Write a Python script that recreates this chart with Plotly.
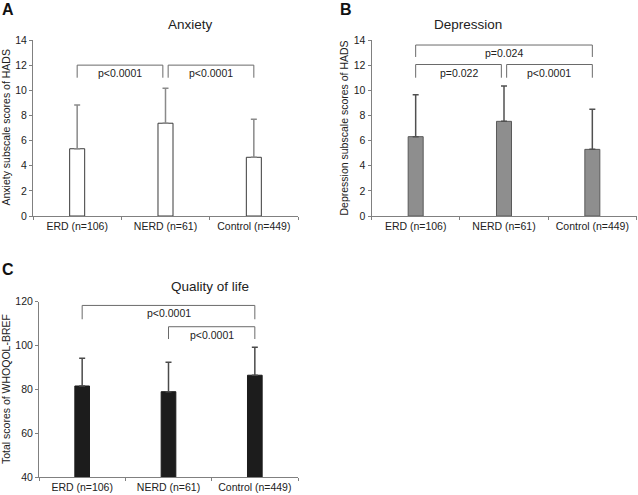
import plotly.graph_objects as go

# ---------------- data ----------------
categories = ["ERD (n=106)", "NERD (n=61)", "Control (n=449)"]

anxiety_mean = [5.35, 7.38, 4.67]
anxiety_sd = [3.48, 2.78, 3.02]

depression_mean = [6.31, 7.53, 5.30]
depression_sd = [3.34, 2.81, 3.19]

qol_mean = [81.6, 79.0, 86.5]
qol_sd = [12.6, 13.4, 12.7]

panel_titles = ["Anxiety", "Depression", "Quality of life"]
panel_letters = ["A", "B", "C"]
y_titles = ["Anxiety subscale scores of HADS",
            "Depression subscale scores of HADS",
            "Total scores of WHOQOL-BREF"]

# significance brackets: (from category index, to category index, top, leg end, label)
anxiety_brackets = [(0, 1, 12.0, 11.0, "p<0.0001"), (1, 2, 12.0, 11.0, "p<0.0001")]
depression_brackets = [(0, 2, 13.6, 12.65, "p=0.024"),
                       (0, 1, 12.05, 11.0, "p=0.022"),
                       (1, 2, 12.05, 11.0, "p<0.0001")]
qol_brackets = [(0, 2, 118.3, 112.0, "p<0.0001"), (1, 2, 108.6, 103.0, "p<0.0001")]

# ---------------- style ----------------
FONT = "Arial, 'Liberation Sans', Helvetica, sans-serif"
TXT = "#222222"
AXC = "#808080"
W, H = 638, 495

panels = [
    dict(mean=anxiety_mean, sd=anxiety_sd, brackets=anxiety_brackets,
         fill="#ffffff", line="#3a3a3a", err="#8a8a8a",
         xdom=[33, 298], ydom=[40, 216], yrange=[0, 14], dtick=2, ytitle_x=5.5),
    dict(mean=depression_mean, sd=depression_sd, brackets=depression_brackets,
         fill="#8e8e8e", line="#5a5a5a", err="#505050",
         xdom=[371.5, 636.5], ydom=[40, 216], yrange=[0, 14], dtick=2, ytitle_x=343.5),
    dict(mean=qol_mean, sd=qol_sd, brackets=qol_brackets,
         fill="#1c1c1c", line="#1c1c1c", err="#4a4a4a",
         xdom=[39, 298], ydom=[301.7, 477.3], yrange=[40, 120], dtick=20, ytitle_x=5.5),
]

fig = go.Figure()
shapes = []
annotations = []

for i, p in enumerate(panels):
    n = "" if i == 0 else str(i + 1)
    xa, ya = "x" + n, "y" + n
    fig.add_trace(go.Bar(
        x=categories, y=p["mean"], xaxis=xa, yaxis=ya, width=0.17,
        marker=dict(color=p["fill"], line=dict(color=p["line"], width=1)),
        error_y=dict(type="data", array=p["sd"], arrayminus=[0] * len(p["sd"]),
                     symmetric=False, color=p["err"], thickness=1.5, width=3),
        showlegend=False, hoverinfo="skip",
    ))
    xd = [p["xdom"][0] / W, p["xdom"][1] / W]
    yd = [1 - p["ydom"][1] / H, 1 - p["ydom"][0] / H]
    axis_common = dict(showline=True, linecolor=AXC, linewidth=1, ticks="outside",
                       tickcolor=AXC, ticklen=3, showgrid=False, zeroline=False,
                       automargin=False,
                       tickfont=dict(family=FONT, size=10.5, color=TXT))
    fig.layout["xaxis" + n] = dict(axis_common, domain=xd, anchor=ya, range=[-0.5, 2.5],
                                   type="category", tickson="boundaries", fixedrange=True)
    fig.layout["yaxis" + n] = dict(axis_common, domain=yd, anchor=xa, range=p["yrange"],
                                   dtick=p["dtick"], fixedrange=True)

    # brackets
    for (a, b, top, leg, label) in p["brackets"]:
        x0, x1 = float(a), float(b)
        for (c, d, t2, _, _) in p["brackets"]:
            if abs(t2 - top) < 0.5 and (c, d) != (a, b):
                if d == a:
                    x0 += 0.03
                if c == b:
                    x1 -= 0.03
        shapes.append(dict(type="path", xref=xa, yref=ya,
                           path=f"M {x0},{leg} L {x0},{top} L {x1},{top} L {x1},{leg}",
                           line=dict(color="#6a6a6a", width=1)))
        annotations.append(dict(x=(x0 + x1) / 2, y=top, xref=xa, yref=ya, text=label,
                                showarrow=False, yanchor="middle", yshift=-8,
                                font=dict(family=FONT, size=10.5, color=TXT)))

    # panel title
    annotations.append(dict(x=(xd[0] + xd[1]) / 2, y=yd[1] + 15 / H, xref="paper", yref="paper",
                            text=panel_titles[i], showarrow=False, yanchor="middle",
                            font=dict(family=FONT, size=13.5, color=TXT)))
    # y title
    annotations.append(dict(x=p["ytitle_x"] / W, y=(yd[0] + yd[1]) / 2, xref="paper", yref="paper",
                            text=y_titles[i], showarrow=False, textangle=-90,
                            xanchor="center", yanchor="middle",
                            font=dict(family=FONT, size=10.5, color=TXT)))

# panel letters
letter_pos = [(0, 9), (338, 9), (0, 269)]
for (lx, ly), letter in zip(letter_pos, panel_letters):
    annotations.append(dict(x=lx / W, y=1 - ly / H, xref="paper", yref="paper",
                            text=f"<b>{letter}</b>", showarrow=False,
                            xanchor="left", yanchor="middle",
                            font=dict(family=FONT, size=16, color="#111111")))

fig.update_layout(
    width=W, height=H, margin=dict(l=0, r=0, t=0, b=0),
    paper_bgcolor="white", plot_bgcolor="white",
    shapes=shapes, annotations=annotations, bargap=0.8,
)

fig.write_html("out.html", config={"displayModeBar": False},
               post_script="document.body.style.margin='0';document.body.style.overflow='hidden';")
